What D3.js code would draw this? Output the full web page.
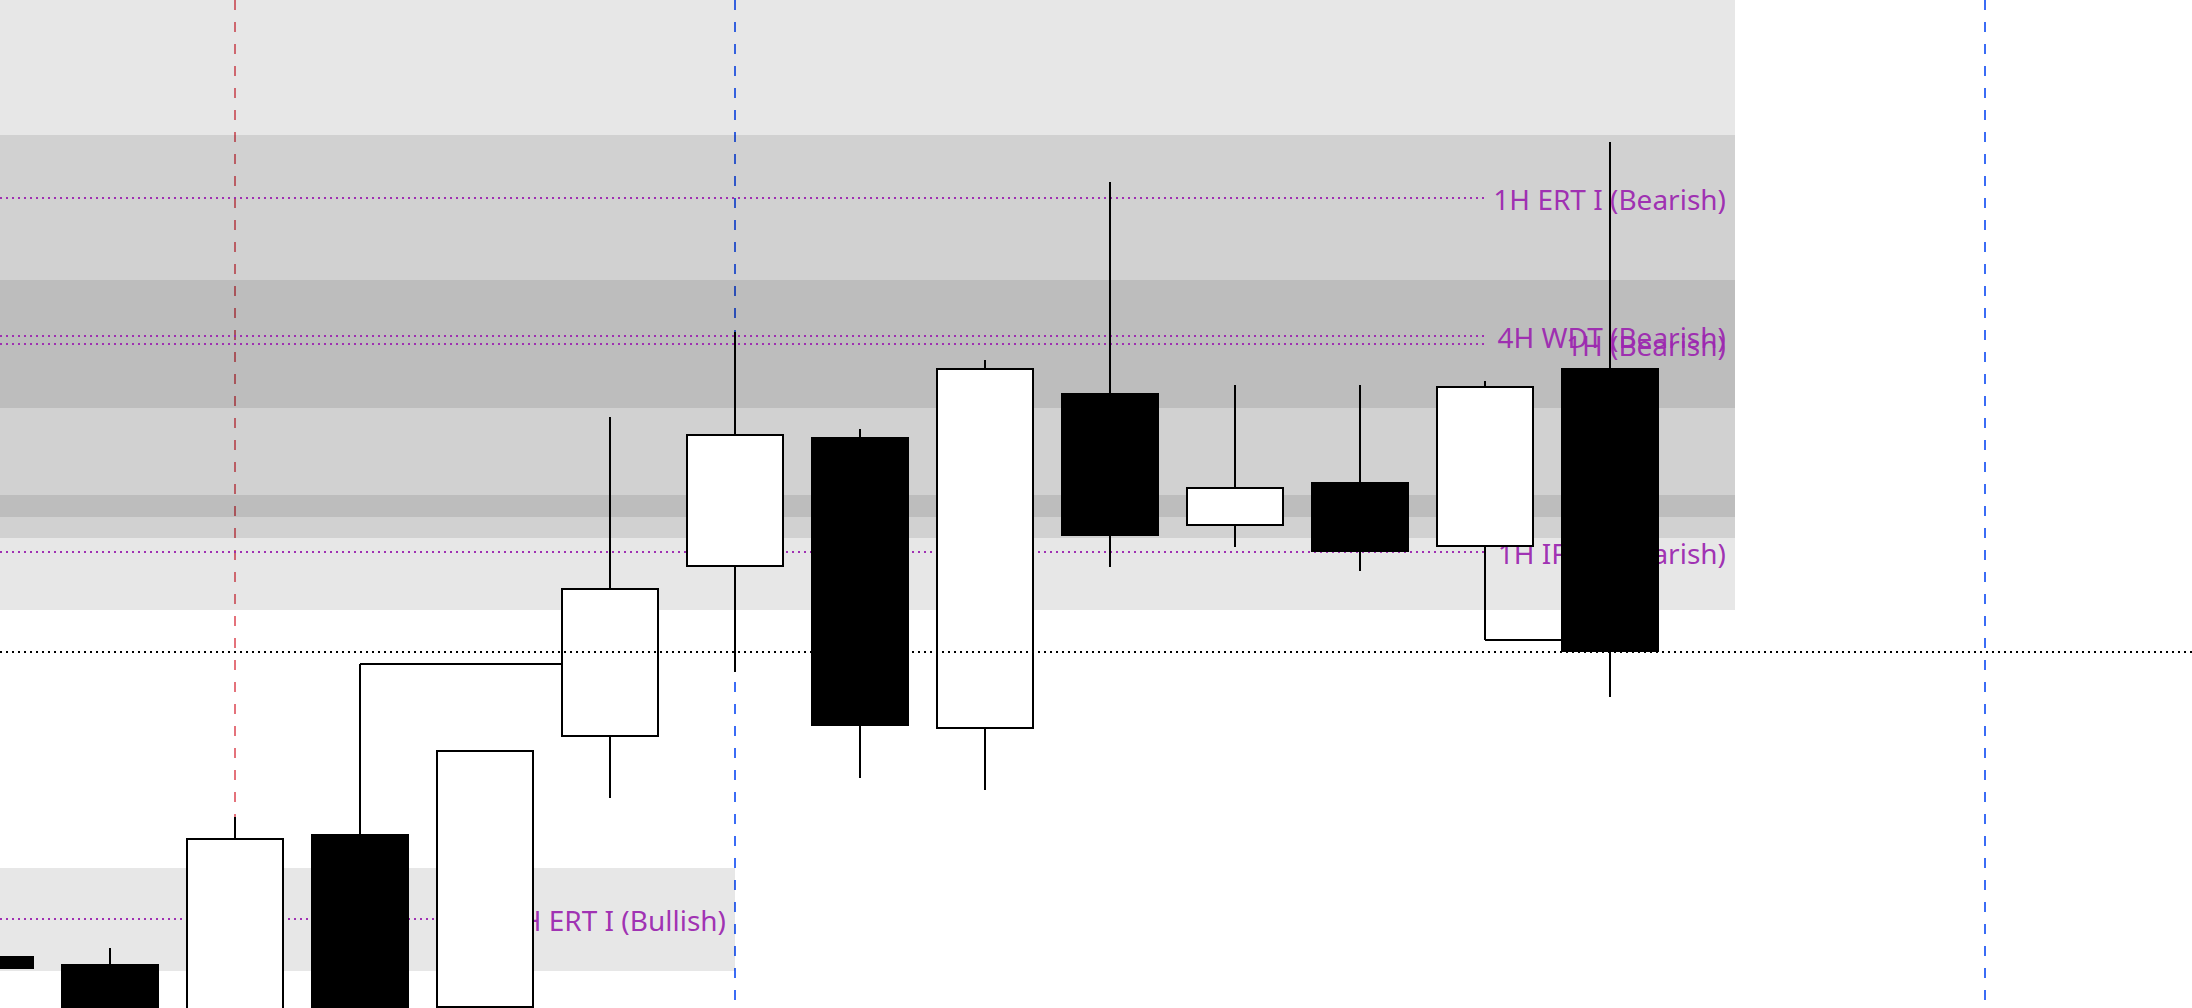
<!DOCTYPE html>
<html lang="en">
<head>
    <meta charset="UTF-8">
    <title>Candles with levels</title>
    <script src="https://cdn.jsdelivr.net/npm/d3@7"></script>
    <style>
        body {
            margin: 0;
            background: #ffffff;
            overflow: hidden;
        }

        svg {
            display: block;
        }

        .level-label {
            font-family: 'Noto Sans', sans-serif;
            font-size: 28px;
            fill: #9c27b0;
            fill-opacity: 0.95;
        }
    </style>
</head>
<body>
    <svg id="chart"></svg>

    <script>
        // candles, one per bar index (0 = partly off the left edge)
        const opens  = [2405.2, 2404.4, 2395.8, 2417.4, 2400.0, 2427.1, 2444.1, 2457.1, 2427.9, 2461.5, 2448.2, 2452.6, 2446.1, 2464.0];
        const highs  = [2405.8, 2406.0, 2419.1, 2434.4, 2425.8, 2459.1, 2467.6, 2457.9, 2464.8, 2482.6, 2462.3, 2462.3, 2462.7, 2486.6];
        const lows   = [2403.3, 2392.8, 2393.8, 2394.8, 2397.8, 2421.0, 2433.6, 2423.0, 2421.8, 2444.1, 2446.1, 2443.7, 2436.8, 2431.1];
        const closes = [2403.9, 2394.8, 2417.0, 2396.8, 2425.8, 2442.0, 2457.4, 2428.2, 2464.0, 2447.2, 2452.1, 2445.6, 2462.2, 2435.6];

        // shaded zones (price ranges), each running to a bar index
        const zoneLows  = [2439.8, 2447.0, 2460.0, 2449.1, 2403.7];
        const zoneHighs = [2505.8, 2487.3, 2472.8, 2451.3, 2414.0];
        const zoneEnds  = [14, 14, 14, 14, 6];

        // labelled levels
        const levelNames  = ['1H ERT I (Bearish)', '4H WDT (Bearish)', '1H (Bearish)', '1H IFVG (Bearish)', '1H ERT I (Bullish)'];
        const levelPrices = [2481.0, 2467.2, 2466.4, 2445.6, 2408.9];
        const levelLineEnds  = [12, 12, 12, 12, 4];
        const levelLabelEnds = [14, 14, 14, 14, 6];

        // swept highs / lows
        const sweepFrom  = [3, 12];
        const sweepTo    = [5, 13];
        const sweepPrice = [2434.4, 2436.8];

        // session markers
        const markerBars   = [2, 6, 16];
        const markerColors = ['#dc4450', '#3b6cf5', '#3b6cf5'];
        const markerWidths = [1.5, 2, 2];

        const lastPrice = 2435.6;

        const width = 2192;
        const height = 1008;

        const svg = d3.select('#chart')
            .attr('width', width)
            .attr('height', height);

        const x = d3.scaleLinear().domain([0, 16]).range([-15, 1985]);
        const y = d3.scaleLinear().domain([2400, 2500.8]).range([height, 0]);

        const step = x(1) - x(0);
        const bodyW = step * 0.784;

        // vertical session lines (below everything)
        svg.append('g')
            .selectAll('line')
            .data(markerBars)
            .join('line')
            .attr('x1', d => x(d))
            .attr('x2', d => x(d))
            .attr('y1', 0)
            .attr('y2', height)
            .attr('stroke', (d, i) => markerColors[i])
            .attr('stroke-width', (d, i) => markerWidths[i])
            .attr('stroke-dasharray', '10,12');

        // zones
        svg.append('g')
            .selectAll('rect')
            .data(zoneLows)
            .join('rect')
            .attr('x', x(-1))
            .attr('width', (d, i) => x(zoneEnds[i]) - x(-1))
            .attr('y', (d, i) => y(zoneHighs[i]))
            .attr('height', (d, i) => y(d) - y(zoneHighs[i]))
            .attr('fill', '#000')
            .attr('fill-opacity', 0.095);

        // level lines + labels
        const levels = svg.append('g');
        levels.selectAll('line')
            .data(levelPrices)
            .join('line')
            .attr('x1', x(-0.12))
            .attr('x2', (d, i) => x(levelLineEnds[i]))
            .attr('y1', d => y(d))
            .attr('y2', d => y(d))
            .attr('stroke', '#9c27b0')
            .attr('stroke-opacity', 0.95)
            .attr('stroke-width', 2)
            .attr('stroke-dasharray', '2,4');

        levels.selectAll('text')
            .data(levelPrices)
            .join('text')
            .attr('class', 'level-label')
            .attr('x', (d, i) => x(levelLabelEnds[i]) - 9)
            .attr('y', d => y(d) + 12)
            .attr('text-anchor', 'end')
            .text((d, i) => levelNames[i]);

        // sweep lines: wick tip carried to the bar that takes it
        svg.append('g')
            .selectAll('line')
            .data(sweepPrice)
            .join('line')
            .attr('x1', (d, i) => x(sweepFrom[i]))
            .attr('x2', (d, i) => x(sweepTo[i]))
            .attr('y1', d => y(d))
            .attr('y2', d => y(d))
            .attr('stroke', '#000')
            .attr('stroke-width', 2);

        // candles
        const bars = d3.range(opens.length);
        const candles = svg.append('g');

        candles.selectAll('line')
            .data(bars)
            .join('line')
            .attr('x1', i => x(i))
            .attr('x2', i => x(i))
            .attr('y1', i => y(highs[i]))
            .attr('y2', i => y(lows[i]))
            .attr('stroke', '#000')
            .attr('stroke-width', 2);

        candles.selectAll('rect')
            .data(bars)
            .join('rect')
            .attr('x', i => x(i) - bodyW / 2 + 1)
            .attr('width', bodyW - 2)
            .attr('y', i => y(Math.max(opens[i], closes[i])) + 1)
            .attr('height', i => Math.max(1, Math.abs(y(opens[i]) - y(closes[i])) - 2))
            .attr('fill', i => closes[i] >= opens[i] ? '#fff' : '#000')
            .attr('stroke', '#000')
            .attr('stroke-width', 2);

        // last price line on top
        svg.append('line')
            .attr('x1', x(-0.12))
            .attr('x2', width)
            .attr('y1', y(lastPrice))
            .attr('y2', y(lastPrice))
            .attr('stroke', '#000')
            .attr('stroke-width', 2)
            .attr('stroke-dasharray', '2,4');
    </script>
</body>
</html>
